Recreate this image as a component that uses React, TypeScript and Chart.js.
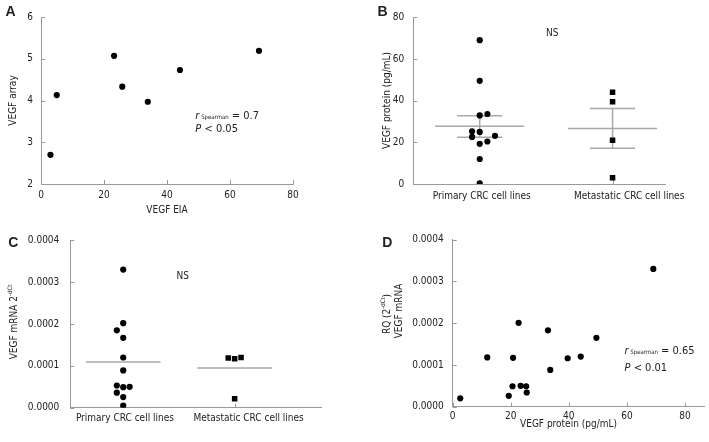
import React, { useEffect, useRef } from 'react';
import { Chart, registerables } from 'chart.js';

Chart.register(...registerables);

// ---------- Panel A: VEGF EIA vs VEGF array ----------
const eiaValues = [3, 5, 23.2, 25.8, 33.9, 44.1, 69.2];
const arrayValues = [2.7, 4.13, 5.07, 4.33, 3.97, 4.73, 5.19];
const aXTicks = [0, 20, 40, 60, 80];
const aYTicks = [2, 3, 4, 5, 6];

// ---------- Panel B: VEGF protein by group ----------
const groupLabels = ['Primary CRC cell lines', 'Metastatic CRC cell lines'];
const groupPositions = [1, 3];
const groupLabelPositions = [1.03, 3.25];
const primaryProtein = [69, 49.5, 32.9, 33.6, 25.3, 25, 22.6, 23.1, 19.3, 20.4, 12, 0.3];
const primaryProteinJitter = [0, 0, 0, 1, -1, 0, -1, 2, 0, 1, 0, 0];
const metaProtein = [44, 39.5, 21, 3];
const metaProteinJitter = [0, 0, 0, 0];
const proteinMean = [27.7, 26.6];
const proteinUpper = [32.8, 36.2];
const proteinLower = [22.4, 17.1];
const bYTicks = [0, 20, 40, 60, 80];

// ---------- Panel C: VEGF mRNA by group ----------
const primaryMrna = [0.00033, 0.000202, 0.000185, 0.000167, 0.00012, 0.000089, 0.000053, 0.000049, 0.00005, 0.000036, 0.0000255, 0.000005];
const primaryMrnaJitter = [0, 0, -1, 0, 0, 0, -1, 0, 1, -1, 0, 0];
const metaMrna = [0.000119, 0.000117, 0.00012, 0.0000215];
const metaMrnaJitter = [-1, 0, 1, 0];
const mrnaMean = [0.000109, 0.000095];
const mrnaYTicks = [0, 0.0001, 0.0002, 0.0003, 0.0004];

// ---------- Panel D: VEGF protein vs mRNA ----------
const dProtein = [2.6, 11.9, 19.3, 20.6, 20.8, 22.7, 23.4, 25.3, 25.5, 32.8, 33.6, 39.6, 44.1, 49.5, 69.1];
const dMrna = [0.00002, 0.000118, 0.000026, 0.000049, 0.000117, 0.000201, 0.00005, 0.000049, 0.000034, 0.000183, 0.000088, 0.000116, 0.00012, 0.000165, 0.00033];
const dXTicks = [0, 20, 40, 60, 80];

// ---------- styles ----------
const AXIS = '#9a9a9a';
const BAR = '#a8a8a8';
const TXT = '#222222';
const FAM = "'DejaVu Sans Condensed', 'DejaVu Sans', Tahoma, sans-serif";
const TICK_FONT = { family: FAM, size: 10 };
const JIT = 0.115;
const MEAN_HALF = 0.67;
const CAP_HALF = 0.34;

type Part = { t: string; font: string; dy?: number };
type TextItem = { parts: Part[]; x: number; y: number; data?: boolean; align?: 'left' | 'center'; rotate?: boolean };

function P(t: string, size = 10, style = ''): Part {
  return { t, font: `${style} ${size}px ${FAM}`.trim() };
}

const decoPlugin = {
  id: 'deco',
  beforeDatasetsDraw(chart: any) {
    const o = chart.options.plugins.deco || {};
    const ctx = chart.ctx;
    const { left, bottom } = chart.chartArea;
    const xs = chart.scales.x;
    const ys = chart.scales.y;
    ctx.save();
    ctx.strokeStyle = AXIS;
    ctx.lineWidth = 1;
    ctx.beginPath();
    (o.yMarks || []).forEach((v: number) => {
      const p = Math.round(ys.getPixelForValue(v)) + 0.5;
      ctx.moveTo(left, p);
      ctx.lineTo(left + 4, p);
    });
    (o.xMarks || []).forEach((v: number) => {
      const p = Math.round(xs.getPixelForValue(v)) + 0.5;
      ctx.moveTo(p, bottom);
      ctx.lineTo(p, bottom - 4);
    });
    ctx.stroke();
    ctx.restore();
  },
  afterDraw(chart: any) {
    const o = chart.options.plugins.deco || {};
    const ctx = chart.ctx;
    const xs = chart.scales.x;
    const ys = chart.scales.y;
    (o.texts || []).forEach((it: TextItem) => {
      const x = it.data ? xs.getPixelForValue(it.x) : it.x;
      const y = it.data ? ys.getPixelForValue(it.y) : it.y;
      ctx.save();
      ctx.translate(x, y);
      if (it.rotate) ctx.rotate(-Math.PI / 2);
      ctx.fillStyle = TXT;
      ctx.textBaseline = 'alphabetic';
      ctx.textAlign = 'left';
      let total = 0;
      const widths = it.parts.map((p) => {
        ctx.font = p.font;
        const w = ctx.measureText(p.t).width;
        total += w;
        return w;
      });
      let cx = it.align === 'left' ? 0 : -total / 2;
      it.parts.forEach((p, i) => {
        ctx.font = p.font;
        ctx.fillText(p.t, cx, 4 + (p.dy || 0));
        cx += widths[i];
      });
      ctx.restore();
    });
  },
};

type Area = { l: number; t: number; r: number; b: number };

function scatterSet(points: { x: number; y: number }[], style: string, radius: number) {
  return {
    data: points,
    pointStyle: style,
    pointRadius: radius,
    pointHoverRadius: radius,
    backgroundColor: '#000',
    borderColor: '#000',
    borderWidth: 0,
    showLine: false,
    order: 0,
  };
}

function segment(x1: number, y1: number, x2: number, y2: number) {
  return {
    data: [{ x: x1, y: y1 }, { x: x2, y: y2 }],
    showLine: true,
    pointRadius: 0,
    borderColor: BAR,
    borderWidth: 1.5,
    backgroundColor: BAR,
    order: 1,
  };
}

function makeConfig(opts: {
  w: number;
  h: number;
  area: Area;
  x: { min: number; max: number; ticks: number[]; labels?: string[]; pad: number };
  y: { min: number; max: number; ticks: number[]; fmt: (v: number) => string; pad: number };
  datasets: any[];
  xMarks: number[];
  texts: TextItem[];
}) {
  const { w, h, area, x, y } = opts;
  return {
    type: 'scatter',
    data: { datasets: opts.datasets },
    plugins: [decoPlugin],
    options: {
      animation: false,
      responsive: false,
      maintainAspectRatio: false,
      events: [],
      layout: { padding: { left: 0, top: area.t, right: w - area.r, bottom: 0 } },
      plugins: {
        legend: { display: false },
        tooltip: { enabled: false },
        title: { display: false },
        deco: { xMarks: opts.xMarks, yMarks: y.ticks, texts: opts.texts },
      },
      scales: {
        x: {
          type: 'linear',
          min: x.min,
          max: x.max,
          afterFit: (s: any) => {
            s.height = h - area.b;
          },
          afterBuildTicks: (s: any) => {
            s.ticks = x.ticks.map((v) => ({ value: v }));
          },
          ticks: {
            font: TICK_FONT,
            color: TXT,
            padding: x.pad,
            maxRotation: 0,
            autoSkip: false,
            callback: (v: number) => {
              if (x.labels) {
                const i = x.ticks.indexOf(v);
                return i >= 0 ? x.labels[i] : '';
              }
              return String(v);
            },
          },
          grid: { display: false, drawTicks: false },
          border: { display: true, color: AXIS, width: 1 },
        },
        y: {
          type: 'linear',
          min: y.min,
          max: y.max,
          afterFit: (s: any) => {
            s.width = area.l;
          },
          afterBuildTicks: (s: any) => {
            s.ticks = y.ticks.map((v) => ({ value: v }));
          },
          ticks: {
            font: TICK_FONT,
            color: TXT,
            padding: y.pad,
            autoSkip: false,
            callback: (v: number) => y.fmt(v),
          },
          grid: { display: false, drawTicks: false },
          border: { display: true, color: AXIS, width: 1 },
        },
      },
    },
  };
}

function groupPoints(values: number[], jitter: number[], g: number) {
  return values.map((v, i) => ({ x: groupPositions[g] + jitter[i] * JIT, y: v }));
}

const fmt4 = (v: number) => v.toFixed(4);
const fmt0 = (v: number) => String(Math.round(v));
const LETTER = (t: string) => P(t, 14, 'bold');

function configA() {
  const pts = eiaValues.map((v, i) => ({ x: v, y: arrayValues[i] }));
  return makeConfig({
    w: 354,
    h: 221,
    area: { l: 41, t: 17, r: 293, b: 184 },
    x: { min: 0, max: 80, ticks: aXTicks, pad: 5 },
    y: { min: 2, max: 6, ticks: aYTicks, fmt: fmt0, pad: 8 },
    datasets: [scatterSet(pts, 'circle', 3.1)],
    xMarks: aXTicks,
    texts: [
      { parts: [{ t: 'A', font: `bold 14px 'Liberation Sans', Arial, sans-serif` }], x: 10.5, y: 12 },
      { parts: [P('VEGF array')], x: 12, y: 100.5, rotate: true },
      { parts: [P('VEGF EIA')], x: 167, y: 209 },
      {
        parts: [P('r', 11, 'italic'), P(' Spearman', 6), P(' = 0.7', 11)],
        x: 49,
        y: 3.66,
        data: true,
        align: 'left',
      },
      { parts: [P('P', 11, 'italic'), P(' < 0.05', 11)], x: 49, y: 3.33, data: true, align: 'left' },
    ],
  });
}

function groupSummarySets(mean: number[], upper: number[] | null, lower: number[] | null) {
  const sets: any[] = [];
  groupPositions.forEach((g, i) => {
    sets.push(segment(g - MEAN_HALF, mean[i], g + MEAN_HALF, mean[i]));
    if (upper && lower) {
      sets.push(segment(g - CAP_HALF, upper[i], g + CAP_HALF, upper[i]));
      sets.push(segment(g - CAP_HALF, lower[i], g + CAP_HALF, lower[i]));
      sets.push(segment(g, lower[i], g, upper[i]));
    }
  });
  return sets;
}

function configB() {
  return makeConfig({
    w: 355,
    h: 221,
    area: { l: 59.3, t: 17.3, r: 311.7, b: 184 },
    x: { min: 0, max: 3.8, ticks: groupLabelPositions, labels: groupLabels, pad: 6 },
    y: { min: 0, max: 80, ticks: bYTicks, fmt: fmt0, pad: 9 },
    datasets: [
      scatterSet(groupPoints(primaryProtein, primaryProteinJitter, 0), 'circle', 3.1),
      scatterSet(groupPoints(metaProtein, metaProteinJitter, 1), 'rect', 3.9),
      ...groupSummarySets(proteinMean, proteinUpper, proteinLower),
    ],
    xMarks: groupPositions,
    texts: [
      { parts: [{ t: 'B', font: `bold 14px 'Liberation Sans', Arial, sans-serif` }], x: 28.5, y: 12 },
      { parts: [P('VEGF protein (pg/mL)')], x: 31.5, y: 100.5, rotate: true },
      { parts: [P('NS', 10)], x: 2.09, y: 73, data: true },
    ],
  });
}

function configC() {
  return makeConfig({
    w: 354,
    h: 221,
    area: { l: 70.3, t: 19.3, r: 321, b: 186.7 },
    x: { min: 0.05, max: 4.55, ticks: groupLabelPositions, labels: groupLabels, pad: 5 },
    y: { min: 0, max: 0.0004, ticks: mrnaYTicks, fmt: fmt4, pad: 11 },
    datasets: [
      scatterSet(groupPoints(primaryMrna, primaryMrnaJitter, 0), 'circle', 3.1),
      scatterSet(groupPoints(metaMrna, metaMrnaJitter, 1), 'rect', 3.9),
      ...groupSummarySets(mrnaMean, null, null),
    ],
    xMarks: groupPositions,
    texts: [
      { parts: [{ t: 'C', font: `bold 14px 'Liberation Sans', Arial, sans-serif` }], x: 13.3, y: 22 },
      {
        parts: [P('VEGF mRNA 2'), { t: '-dCt', font: `6px ${FAM}`, dy: -5 }],
        x: 12.5,
        y: 101,
        rotate: true,
      },
      { parts: [P('NS', 10)], x: 2.07, y: 0.000317, data: true },
    ],
  });
}

function configD() {
  const pts = dProtein.map((v, i) => ({ x: v, y: dMrna[i] }));
  return makeConfig({
    w: 355,
    h: 221,
    area: { l: 98.7, t: 18.7, r: 350.7, b: 185.7 },
    x: { min: 0, max: 86.8, ticks: dXTicks, pad: 4 },
    y: { min: 0, max: 0.0004, ticks: mrnaYTicks, fmt: fmt4, pad: 9 },
    datasets: [scatterSet(pts, 'circle', 3.1)],
    xMarks: dXTicks,
    texts: [
      { parts: [{ t: 'D', font: `bold 14px 'Liberation Sans', Arial, sans-serif` }], x: 33.3, y: 22 },
      {
        parts: [P('RQ (2'), { t: '-dCt', font: `6px ${FAM}`, dy: -5 }, P(')')],
        x: 32,
        y: 93,
        rotate: true,
      },
      { parts: [P('VEGF mRNA')], x: 44, y: 90, rotate: true },
      { parts: [P('VEGF protein (pg/mL)')], x: 214.5, y: 202 },
      {
        parts: [P('r', 11, 'italic'), P(' Spearman', 6), P(' = 0.65', 11)],
        x: 59.2,
        y: 0.000135,
        data: true,
        align: 'left',
      },
      { parts: [P('P', 11, 'italic'), P(' < 0.01', 11)], x: 59.2, y: 0.000096, data: true, align: 'left' },
    ],
  });
}

function Panel(props: { left: number; top: number; width: number; height: number; build: () => any }) {
  const ref = useRef<HTMLCanvasElement>(null);
  useEffect(() => {
    const chart = new Chart(ref.current as HTMLCanvasElement, props.build());
    return () => chart.destroy();
  }, []);
  return (
    <canvas
      ref={ref}
      width={props.width}
      height={props.height}
      style={{ position: 'absolute', left: props.left, top: props.top, width: props.width, height: props.height }}
    />
  );
}

export default function App() {
  return (
    <div style={{ position: 'absolute', left: 0, top: 0, width: 709, height: 442, background: '#fff', overflow: 'hidden' }}>
      <Panel left={0} top={0} width={354} height={221} build={configA} />
      <Panel left={354} top={0} width={355} height={221} build={configB} />
      <Panel left={0} top={221} width={354} height={221} build={configC} />
      <Panel left={354} top={221} width={355} height={221} build={configD} />
    </div>
  );
}
